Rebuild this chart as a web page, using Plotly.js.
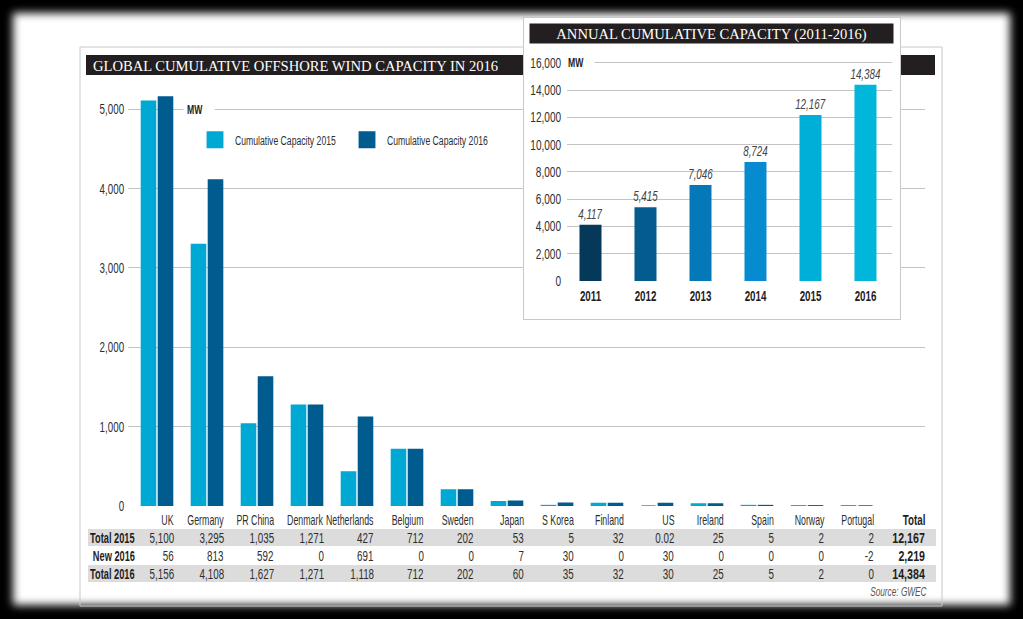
<!DOCTYPE html>
<html><head><meta charset="utf-8">
<script src="https://cdn.plot.ly/plotly-3.0.1.min.js"></script>
<style>
html,body{margin:0;padding:0;background:#000;width:1023px;height:619px;overflow:hidden;}
#frame{position:absolute;left:13px;top:13px;width:997px;height:592px;background:#fff;filter:blur(4px);}
#main{position:absolute;left:0;top:0;width:1023px;height:619px;}
#inset{position:absolute;left:523px;top:17px;width:378px;height:303px;box-sizing:border-box;border:1.5px solid #c8c8c8;background:#fff;}
#insetPlot{position:absolute;left:0;top:0;width:375px;height:300px;}
</style></head><body>
<div id="frame"></div>
<div id="main"></div>
<div id="inset"><div id="insetPlot"></div></div>
<script>
// ---------- DATA ----------
const countries = ['UK','Germany','PR China','Denmark','Netherlands','Belgium','Sweden','Japan','S Korea','Finland','US','Ireland','Spain','Norway','Portugal'];
const cap2015 = [5100,3295,1035,1271,427,712,202,53,5,32,0.02,25,5,2,2];
const new2016 = [56,813,592,0,691,0,0,7,30,0,30,0,0,0,-2];
const cap2016 = [5156,4108,1627,1271,1118,712,202,60,35,32,30,25,5,2,0];
const totals = [12167,2219,14384];
const rowLabels = ['Total 2015','New 2016','Total 2016'];
const totalHeader = 'Total';
const seriesNames = ['Cumulative Capacity 2015','Cumulative Capacity 2016'];
const mainTitle = 'GLOBAL CUMULATIVE OFFSHORE WIND CAPACITY IN 2016';
const unitLabel = 'MW';
const sourceText = 'Source: GWEC';
const years = ['2011','2012','2013','2014','2015','2016'];
const annualCap = [4117,5415,7046,8724,12167,14384];
const insetTitle = 'ANNUAL CUMULATIVE CAPACITY (2011-2016)';

// ---------- STYLE ----------
const SANS = '"Liberation Sans", Arial, sans-serif';
const SERIF = '"Liberation Serif", "DejaVu Serif", serif';
const C15 = '#00a8d4', C16 = '#005b8f';
const yearColors = ['#06385a','#045b8e','#0579b8','#078bd0','#00afd8','#00b6da'];
const GRID = '#c4c4c4', TXT = '#2e2e2e';

// main plot area in pixels
const M = {l:128, r:925, t:95, b:506};
const px = x => (x - M.l) / (M.r - M.l);
const py = y => (M.b - y) / (M.b - M.t);
const fmt = v => v.toLocaleString('en-US', {maximumFractionDigits: 2});

const shapes = [
  {type:'rect', xref:'paper', yref:'paper', layer:'below', x0:px(80), x1:px(942), y0:py(606), y1:py(47), line:{color:'#c8c8c8', width:1}, fillcolor:'rgba(0,0,0,0)'},
  {type:'rect', xref:'paper', yref:'paper', layer:'below', x0:px(86), x1:px(935), y0:py(75), y1:py(55), line:{width:0}, fillcolor:'#231f20'},
  {type:'rect', xref:'paper', yref:'paper', layer:'below', x0:px(88), x1:px(936), y0:py(546), y1:py(529), line:{width:0}, fillcolor:'#dcdcdc'},
  {type:'rect', xref:'paper', yref:'paper', layer:'below', x0:px(88), x1:px(936), y0:py(582), y1:py(565), line:{width:0}, fillcolor:'#dcdcdc'}
];

const ann = [], annSqueeze = [];
function addAnn(a, s, origin) { ann.push(a); annSqueeze.push([s, origin]); }
const rowY = [537.5, 556, 573.5];
const rows = [cap2015, new2016, cap2016];
const cellFont = {family: SANS, size: 14, color: TXT};
const boldFont = {family: SANS, size: 14, color: '#1e1e1e', weight: 'bold'};
countries.forEach((c, i) => {
  addAnn({x: i + 0.38, xref:'x', y: py(520), yref:'paper', text: c, showarrow:false, xanchor:'right', yanchor:'middle', font: cellFont}, 0.63, 'right center');
  rows.forEach((r, k) => {
    addAnn({x: i + 0.38, xref:'x', y: py(rowY[k]), yref:'paper', text: fmt(r[i]), showarrow:false, xanchor:'right', yanchor:'middle', font: cellFont}, 0.7, 'right center');
  });
});
addAnn({x: px(927), xref:'paper', y: py(520), yref:'paper', text: totalHeader, showarrow:false, xanchor:'right', yanchor:'middle', font: boldFont}, 0.7, 'right center');
rowLabels.forEach((lab, k) => {
  addAnn({x: px(137), xref:'paper', y: py(rowY[k]), yref:'paper', text: lab, showarrow:false, xanchor:'right', yanchor:'middle', font: boldFont}, 0.66, 'right center');
  addAnn({x: px(927), xref:'paper', y: py(rowY[k]), yref:'paper', text: fmt(totals[k]), showarrow:false, xanchor:'right', yanchor:'middle', font: boldFont}, 0.76, 'right center');
});
addAnn({x: px(929), xref:'paper', y: py(592), yref:'paper', text: sourceText, showarrow:false, xanchor:'right', yanchor:'middle', font:{family: SANS, size: 12.5, color:'#555', style:'italic'}}, 0.66, 'right center');
addAnn({x: px(183), xref:'paper', y: 5000, yref:'y', text: unitLabel, showarrow:false, xanchor:'left', yanchor:'middle', bgcolor:'#ffffff', borderpad:3, font:{family: SANS, size: 13.5, color:'#1e1e1e', weight:'bold'}}, 0.64, 'left center');

const traces = [
  {type:'bar', name: seriesNames[0], x: countries, y: cap2015, marker:{color:C15, line:{color:C15, width:1.5}}, hoverinfo:'y'},
  {type:'bar', name: seriesNames[1], x: countries, y: cap2016, marker:{color:C16, line:{color:C16, width:1.5}}, hoverinfo:'y'}
];

const layout = {
  width:1023, height:619,
  margin:{l:M.l, r:1023-M.r, t:M.t, b:619-M.b, pad:0},
  paper_bgcolor:'rgba(0,0,0,0)', plot_bgcolor:'rgba(0,0,0,0)',
  barmode:'group', bargap:0.32, bargroupgap:0.17,
  title:{text: mainTitle, font:{family: SERIF, size:14.6, color:'#ffffff'}, xref:'container', yref:'container', x: 93/1023, xanchor:'left', y: 1 - 66/619, yanchor:'middle'},
  xaxis:{type:'category', range:[-0.58, 15.36], showticklabels:false, showgrid:false, zeroline:false, showline:false, ticks:'', fixedrange:true},
  yaxis:{range:[0, 5180], dtick:1000, tick0:0, tickformat:',d', showgrid:true, gridcolor:GRID, gridwidth:1, zeroline:true, zerolinecolor:'#ffffff', zerolinewidth:2, showline:false, ticks:'', ticklabelstandoff:3, tickfont:{family: SANS, size:14, color:TXT}, fixedrange:true},
  legend:{orientation:'h', x: px(195), xanchor:'left', y: py(140), yanchor:'middle', font:{family: SANS, size:13.5, color:TXT}, bgcolor:'rgba(0,0,0,0)', entrywidth:107, entrywidthmode:'pixels', traceorder:'normal'},
  shapes: shapes,
  annotations: ann,
  showlegend:true
};

// horizontal squeeze to imitate a condensed typeface
function cssTransform(attr) {
  return (attr || '')
    .replace(/translate\(\s*([-\d.e]+)(?:[\s,]+([-\d.e]+))?\s*\)/g, (m, a, b) => `translate(${a}px,${b || 0}px)`)
    .replace(/rotate\(\s*([-\d.e]+)\s*\)/g, (m, a) => `rotate(${a}deg)`);
}
function squeeze(el, scaleCss, origin) {
  if (!el) return;
  el.style.transformBox = 'fill-box';
  el.style.transformOrigin = origin;
  el.style.transform = (cssTransform(el.getAttribute('transform')) + ' ' + scaleCss).trim();
}
function squeezeAll(root, sel, scaleCss, origin) {
  root.querySelectorAll(sel).forEach(el => squeeze(el, scaleCss, origin));
}

Plotly.newPlot('main', traces, layout, {displayModeBar:false, staticPlot:true}).then(gd => {
  squeezeAll(gd, '.ytick text', 'scaleX(0.7)', 'right center');
  squeezeAll(gd, '.legendtext', 'scaleX(0.64)', 'left center');
  squeezeAll(gd, '.legendpoints path', 'scale(1.25)', 'center');
  annSqueeze.forEach(([s, o], i) => {
    const g = gd.querySelector('.annotation[data-index="' + i + '"] .annotation-text');
    squeeze(g, 'scaleX(' + s + ')', o);
  });
});

// ---------- INSET ----------
const I = {W:375, H:300, l:43, r:368, t:38, b:263};
const ix = x => (x - I.l) / (I.r - I.l);
const iy = y => (I.b - y) / (I.b - I.t);
const insetTraces = [{
  type:'bar', x: years, y: annualCap, marker:{color: yearColors},
  texttemplate:'%{y:,}', textposition:'outside', cliponaxis:false, constraintext:'none',
  textfont:{family: SANS, size:14, color:'#444', style:'italic'}, hoverinfo:'y'
}];
const insetLayout = {
  width:I.W, height:I.H,
  margin:{l:I.l, r:I.W - I.r, t:I.t, b:I.H - I.b, pad:0},
  paper_bgcolor:'#ffffff', plot_bgcolor:'#ffffff',
  bargap:0.6, showlegend:false,
  title:{text: insetTitle, font:{family: SERIF, size:14.6, color:'#ffffff'}, xref:'container', yref:'container', x:0.5, xanchor:'center', y: 1 - 15.5/300, yanchor:'middle'},
  xaxis:{type:'category', range:[-0.427, 5.482], showgrid:false, zeroline:false, showline:false, ticks:'', ticklabelstandoff:5, tickfont:{family: SANS, size:14, color:'#1e1e1e', weight:'bold'}, fixedrange:true},
  yaxis:{range:[0,16500], dtick:2000, tick0:0, tickformat:',d', showgrid:true, gridcolor:GRID, zeroline:true, zerolinecolor:'#ffffff', zerolinewidth:2, showline:false, ticks:'', ticklabelstandoff:5, tickfont:{family: SANS, size:14, color:TXT}, fixedrange:true},
  shapes:[{type:'rect', xref:'paper', yref:'paper', layer:'below', x0: ix(5.5), x1: ix(369.5), y0: iy(25.5), y1: iy(5.5), line:{width:0}, fillcolor:'#231f20'}],
  annotations:[{x: ix(41), xref:'paper', y:16000, yref:'y', text: unitLabel, showarrow:false, xanchor:'left', yanchor:'middle', bgcolor:'#ffffff', borderpad:2, font:{family: SANS, size:13.5, color:'#1e1e1e', weight:'bold'}}]
};
Plotly.newPlot('insetPlot', insetTraces, insetLayout, {displayModeBar:false, staticPlot:true}).then(gd => {
  squeezeAll(gd, '.ytick text', 'scaleX(0.72)', 'right center');
  squeezeAll(gd, '.xtick text', 'scaleX(0.7)', 'center');
  squeezeAll(gd, '.bartext', 'scaleX(0.7)', 'center');
  squeezeAll(gd, '.annotation-text', 'scaleX(0.64)', 'left center');
});
</script>
</body></html>
